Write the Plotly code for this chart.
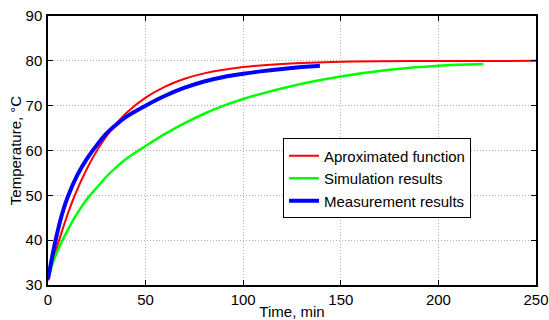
import plotly.graph_objects as go

# Approximated function (red)
t_red = [0, 2.5, 5, 10, 14, 20, 25.8, 31.7, 40, 50, 60, 70, 80, 100, 120, 150, 200, 250]
T_red = [31, 35.2, 39.0, 45.7, 50.3, 56.0, 60.5, 64.2, 68.3, 71.8, 74.25, 76.0, 77.2, 78.6, 79.3, 79.8, 79.96, 80.0]

# Simulation results (green)
t_green = [0, 3, 6, 10, 15, 20, 25, 30, 35, 40, 45, 50, 60, 70, 80, 90, 100, 125, 150, 175, 200, 223]
T_green = [31.5, 35.5, 38.7, 42.2, 46.0, 49.2, 51.7, 54.2, 56.3, 58.1, 59.6, 61.0, 63.7, 66.1, 68.2, 70.0, 71.5, 74.4, 76.5, 78.0, 78.9, 79.3]

# Measurement results (blue)
t_blue = [0, 2, 4, 7, 10, 15, 20, 25, 30, 35, 40, 50, 60, 70, 80, 90, 100, 110, 120, 130, 139.3]
T_blue = [31.3, 36, 40.2, 45.5, 49.5, 54.5, 58.2, 61.2, 63.8, 65.8, 67.5, 70.0, 72.2, 74.0, 75.4, 76.4, 77.1, 77.7, 78.2, 78.6, 78.9]

x_ticks = [0, 50, 100, 150, 200, 250]
y_ticks = [30, 40, 50, 60, 70, 80, 90]

FONT = "Liberation Sans, Arial, sans-serif"

fig = go.Figure()
fig.add_trace(go.Scatter(x=t_red, y=T_red, mode="lines", name="Aproximated function",
                         line=dict(color="#ff0000", width=2, shape="spline", smoothing=1)))
fig.add_trace(go.Scatter(x=t_green, y=T_green, mode="lines", name="Simulation results",
                         line=dict(color="#00ff00", width=2.5, shape="spline", smoothing=1)))
fig.add_trace(go.Scatter(x=t_blue, y=T_blue, mode="lines", name="Measurement results",
                         line=dict(color="#0000ff", width=4, shape="spline", smoothing=1)))

axis_common = dict(
    showline=True, linecolor="black", linewidth=1.5, mirror="ticks",
    ticks="inside", ticklen=5, tickcolor="black", tickwidth=1,
    showgrid=True, gridcolor="#b4b4b4", griddash="1px,2px", gridwidth=1,
    zeroline=False, automargin=False,
    tickfont=dict(family=FONT, size=15, color="black"),
)

fig.update_xaxes(range=[0, 250], tickvals=x_ticks, ticklabelstandoff=0,
                 title=dict(text="Time, min", font=dict(family=FONT, size=15, color="black"), standoff=0),
                 **axis_common)
fig.update_yaxes(range=[30, 90], tickvals=y_ticks, ticklabelstandoff=1,
                 title=dict(text="Temperature, °C", font=dict(family=FONT, size=15, color="black"), standoff=0),
                 **axis_common)

fig.update_layout(
    width=549, height=320,
    margin=dict(l=48, r=13, t=16, b=35),
    paper_bgcolor="white", plot_bgcolor="white",
    font=dict(family=FONT, color="black"),
    showlegend=True,
    legend=dict(x=0.4816, y=0.545, xanchor="left", yanchor="top",
                bgcolor="white", bordercolor="black", borderwidth=1,
                font=dict(family=FONT, size=15, color="black"),
                tracegroupgap=0, itemwidth=30),
)

fig.write_html("out.html", config={"displayModeBar": False},
               post_script="document.body.style.margin='0';document.body.style.overflow='hidden';")
